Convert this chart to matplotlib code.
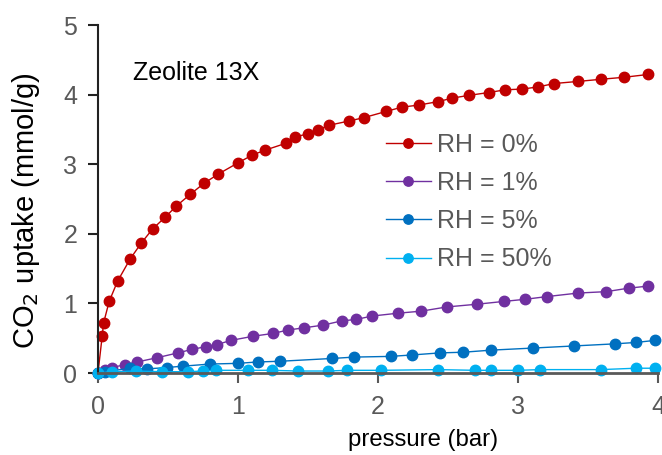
import matplotlib.pyplot as plt

plt.rcParams['font.family'] = ['Liberation Sans', 'DejaVu Sans']

# RH = 0%
p0 = [0.0, 0.03, 0.04, 0.08, 0.14, 0.23, 0.31, 0.39, 0.48, 0.56, 0.66, 0.76, 0.86,
      1.0, 1.1, 1.19, 1.34, 1.41, 1.5, 1.57, 1.65, 1.79, 1.9, 2.06, 2.17, 2.29,
      2.43, 2.53, 2.65, 2.79, 2.91, 3.03, 3.14, 3.26, 3.43, 3.59, 3.76, 3.93]
q0 = [0.0, 0.53, 0.72, 1.03, 1.32, 1.64, 1.87, 2.07, 2.24, 2.40, 2.57, 2.73, 2.86,
      3.02, 3.13, 3.20, 3.30, 3.39, 3.44, 3.49, 3.56, 3.62, 3.67, 3.76, 3.82, 3.85,
      3.90, 3.95, 3.99, 4.03, 4.07, 4.08, 4.11, 4.16, 4.19, 4.22, 4.25, 4.29]

# RH = 1%
p1 = [0.0, 0.05, 0.1, 0.19, 0.28, 0.42, 0.57, 0.67, 0.77, 0.85, 0.95, 1.11, 1.25,
      1.36, 1.47, 1.61, 1.74, 1.84, 1.96, 2.14, 2.31, 2.49, 2.71, 2.9, 3.05, 3.21,
      3.43, 3.63, 3.79, 3.93]
q1 = [0.0, 0.04, 0.08, 0.12, 0.16, 0.22, 0.29, 0.34, 0.38, 0.41, 0.47, 0.53, 0.57,
      0.62, 0.65, 0.69, 0.75, 0.77, 0.82, 0.86, 0.89, 0.95, 0.99, 1.03, 1.06, 1.10,
      1.15, 1.17, 1.22, 1.25]

# RH = 5%
p5 = [0.0, 0.05, 0.23, 0.35, 0.49, 0.61, 0.80, 1.0, 1.14, 1.3, 1.67, 1.83, 2.09,
      2.24, 2.44, 2.61, 2.81, 3.11, 3.4, 3.69, 3.84, 3.98]
q5 = [0.0, 0.02, 0.07, 0.06, 0.08, 0.10, 0.13, 0.14, 0.16, 0.17, 0.21, 0.23, 0.24,
      0.26, 0.29, 0.30, 0.33, 0.36, 0.39, 0.42, 0.44, 0.47]

# RH = 50%
p50 = [0.0, 0.1, 0.27, 0.46, 0.64, 0.75, 0.84, 1.07, 1.24, 1.43, 1.64, 1.78, 2.02,
       2.43, 2.69, 2.81, 3.0, 3.16, 3.59, 3.84, 3.98]
q50 = [0.0, 0.02, 0.03, 0.02, 0.02, 0.03, 0.04, 0.04, 0.04, 0.03, 0.03, 0.04, 0.04,
       0.05, 0.04, 0.04, 0.04, 0.05, 0.05, 0.07, 0.07]

series = [
    (p0, q0, 'RH = 0%', '#C00000'),
    (p1, q1, 'RH = 1%', '#7030A0'),
    (p5, q5, 'RH = 5%', '#0070C0'),
    (p50, q50, 'RH = 50%', '#00B0F0'),
]

fig = plt.figure(figsize=(6.62, 4.55), dpi=100)
ax = fig.add_axes([0.148, 0.180, 0.846, 0.765])

for p, q, lab, c in series:
    ax.plot(p, q, '-o', color=c, lw=1.0, ms=7.5, label=lab, clip_on=False)

ax.set_xlim(0, 4)
ax.set_ylim(0, 5)
ax.set_xticks([0, 1, 2, 3, 4])
ax.set_yticks([0, 1, 2, 3, 4, 5])
ax.tick_params(labelsize=18, length=7, width=1.5, direction='out',
               color='#222222', labelcolor='#595959')
ax.tick_params(axis='x', color='#595959', pad=9)
ax.tick_params(axis='y', pad=8)
for s in ['top', 'right']:
    ax.spines[s].set_visible(False)
ax.spines['left'].set_linewidth(1.5)
ax.spines['left'].set_color('#222222')
ax.spines['bottom'].set_linewidth(2)
ax.spines['bottom'].set_color('#595959')

ax.set_xlabel('pressure (bar)', fontsize=17.2)
ax.xaxis.set_label_coords(0.58, -0.162)
ax.set_ylabel('CO$_2$ uptake (mmol/g)', fontsize=21)
ax.yaxis.set_label_coords(-0.1, 0.466)

ax.text(0.25, 4.31, 'Zeolite 13X', fontsize=18, va='center', ha='left')

leg = ax.legend(loc='upper left', bbox_to_anchor=(0.514, 0.691), frameon=False,
                fontsize=18, handlelength=1.8, labelspacing=0.57, markerscale=0.9,
                borderpad=0, borderaxespad=0, handletextpad=0.25)
for t in leg.get_texts():
    t.set_color('#595959')

fig.savefig('out.png', dpi=100)
